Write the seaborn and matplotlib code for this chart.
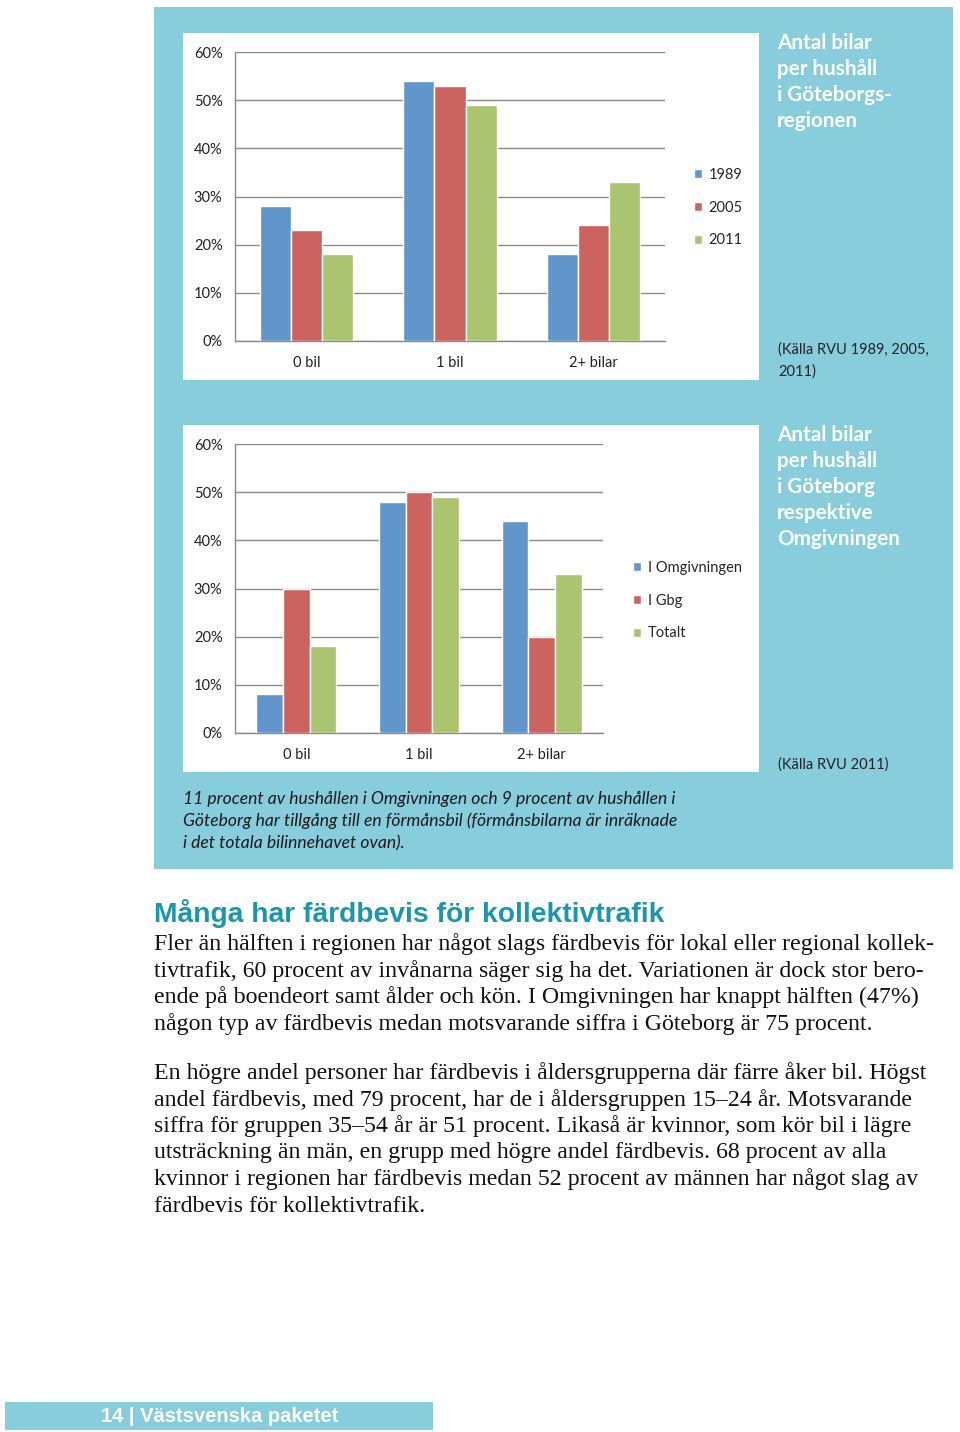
import matplotlib
matplotlib.use("Agg")
from matplotlib import pyplot as plt
from matplotlib.patches import Rectangle, Patch
from matplotlib.ticker import PercentFormatter, FixedLocator
import pandas as pd
import seaborn as sns

# chart data
kategorier = ["0 bil", "1 bil", "2+ bilar"]

ar = ["1989", "2005", "2011"]
andel_1989 = [0.28, 0.54, 0.18]
andel_2005 = [0.23, 0.53, 0.24]
andel_2011 = [0.18, 0.49, 0.33]

omraden = ["I Omgivningen", "I Gbg", "Totalt"]
andel_omg = [0.08, 0.48, 0.44]
andel_gbg = [0.30, 0.50, 0.20]
andel_tot = [0.18, 0.49, 0.33]

yticks = [0, 0.1, 0.2, 0.3, 0.4, 0.5, 0.6]

W, H = 960, 1432
PANEL = "#88cddc"
GRID = "#8a8a8a"
farger = ["#6196cd", "#cd635e", "#abc46f"]


def fx(x):
    return x / W


def fy(y):
    return 1 - y / H


def rect(fig, x0, y0, x1, y1, color):
    fig.add_artist(Rectangle((fx(x0), fy(y1)), fx(x1) - fx(x0), fy(y0) - fy(y1),
                             transform=fig.transFigure, color=color, lw=0, zorder=0))


def long_df(serier, varden):
    rows = []
    for s, v in zip(serier, varden):
        for k, val in zip(kategorier, v):
            rows.append({"kategori": k, "serie": s, "andel": val})
    return pd.DataFrame(rows)


def bar_chart(fig, box, df, serier, legend_xy):
    x0, y0, x1, y1 = box
    ax = fig.add_axes([fx(x0), fy(y1), fx(x1) - fx(x0), fy(y0) - fy(y1)])
    sns.barplot(data=df, x="kategori", y="andel", hue="serie", hue_order=serier,
                order=kategorier, palette=farger, saturation=1, width=0.65,
                legend=False, ax=ax, zorder=3)
    ax.set_facecolor("white")
    ax.set_xlim(-0.5, 2.5)
    ax.set_ylim(0, 0.6)
    ax.set_yticks(yticks)
    ax.yaxis.set_major_formatter(PercentFormatter(1.0, decimals=0))
    ax.set_xlabel("")
    ax.set_ylabel("")
    ax.yaxis.grid(True, color=GRID, lw=1)
    ax.xaxis.grid(False)
    ax.set_axisbelow(True)
    for s in ["top", "right"]:
        ax.spines[s].set_visible(False)
    for s in ["left", "bottom"]:
        ax.spines[s].set_color(GRID)
        ax.spines[s].set_linewidth(1)
    ax.xaxis.set_minor_locator(FixedLocator([-0.5, 0.5, 1.5, 2.5]))
    ax.tick_params(axis="x", which="major", length=0, pad=11, labelsize=10.5, labelcolor="#222222")
    ax.tick_params(axis="x", which="minor", length=4, color=GRID, direction="out")
    ax.tick_params(axis="y", length=4, color=GRID, pad=5, labelsize=10.5, labelcolor="#222222")
    handles = [Patch(facecolor=c, label=l) for c, l in zip(farger, serier)]
    fig.legend(handles=handles, loc="upper left", bbox_to_anchor=(fx(legend_xy[0]), fy(legend_xy[1])),
               bbox_transform=fig.transFigure, frameon=False, fontsize=10.5,
               handlelength=0.55, handleheight=0.55, handletextpad=0.45,
               labelspacing=1.28, borderpad=0, borderaxespad=0)
    return ax


sns.set_theme(style="white")
plt.rcParams["font.family"] = ["Lato", "DejaVu Sans"]

fig = plt.figure(figsize=(W / 100, H / 100), dpi=100)
fig.patch.set_facecolor("white")

# background panel and white chart boxes
rect(fig, 154, 7, 953, 869, PANEL)
rect(fig, 183, 33, 759, 380, "white")
rect(fig, 183, 425, 759, 772, "white")

df1 = long_df(ar, [andel_1989, andel_2005, andel_2011])
df2 = long_df(omraden, [andel_omg, andel_gbg, andel_tot])

bar_chart(fig, (235, 52, 665, 341), df1, ar, (694, 168))
bar_chart(fig, (235, 444, 603, 733), df2, omraden, (633, 561))

# side titles
titel1 = ["Antal bilar", "per hushåll", "i Göteborgs-", "regionen"]
titel2 = ["Antal bilar", "per hushåll", "i Göteborg", "respektive", "Omgivningen"]
for i, t in enumerate(titel1):
    fig.text(fx(777), fy(43 + 26 * i), t, color="white", fontsize=14.9, fontweight="bold", va="center")
for i, t in enumerate(titel2):
    fig.text(fx(777), fy(435 + 26 * i), t, color="white", fontsize=14.9, fontweight="bold", va="center")

fig.text(fx(778), fy(350), "(Källa RVU 1989, 2005,", color="#222222", fontsize=10.5, va="center")
fig.text(fx(778), fy(372), "2011)", color="#222222", fontsize=10.5, va="center")
fig.text(fx(778), fy(765), "(Källa RVU 2011)", color="#222222", fontsize=10.5, va="center")

caption = ["11 procent av hushållen i Omgivningen och 9 procent av hushållen i",
           "Göteborg har tillgång till en förmånsbil (förmånsbilarna är inräknade",
           "i det totala bilinnehavet ovan)."]
for i, t in enumerate(caption):
    fig.text(fx(183), fy(799 + 22 * i), t, color="#1a1a1a", fontsize=12.6, style="italic", va="center")

# article text
fig.text(fx(154), fy(914), "Många har färdbevis för kollektivtrafik", color="#1a96ae",
         fontsize=20.3, fontweight="bold", family="Liberation Sans", va="center")

stycke1 = ["Fler än hälften i regionen har något slags färdbevis för lokal eller regional kollek-",
           "tivtrafik, 60 procent av invånarna säger sig ha det. Variationen är dock stor bero-",
           "ende på boendeort samt ålder och kön. I Omgivningen har knappt hälften (47%)",
           "någon typ av färdbevis medan motsvarande siffra i Göteborg är 75 procent."]
stycke2 = ["En högre andel personer har färdbevis i åldersgrupperna där färre åker bil. Högst",
           "andel färdbevis, med 79 procent, har de i åldersgruppen 15–24 år. Motsvarande",
           "siffra för gruppen 35–54 år är 51 procent. Likaså är kvinnor, som kör bil i lägre",
           "utsträckning än män, en grupp med högre andel färdbevis. 68 procent av alla",
           "kvinnor i regionen har färdbevis medan 52 procent av männen har något slag av",
           "färdbevis för kollektivtrafik."]
for i, t in enumerate(stycke1):
    fig.text(fx(154), fy(944 + 26.7 * i), t, color="#111111", fontsize=17.2,
             family="Liberation Serif", va="center")
for i, t in enumerate(stycke2):
    fig.text(fx(154), fy(1073 + 26.6 * i), t, color="#111111", fontsize=17.2,
             family="Liberation Serif", va="center")

# footer
rect(fig, 5, 1402, 433, 1430, PANEL)
fig.text(fx(220), fy(1416), "14 | Västsvenska paketet", color="white", fontsize=14.5,
         fontweight="bold", family="Liberation Sans", ha="center", va="center")

plt.savefig("out.png", dpi=100)
